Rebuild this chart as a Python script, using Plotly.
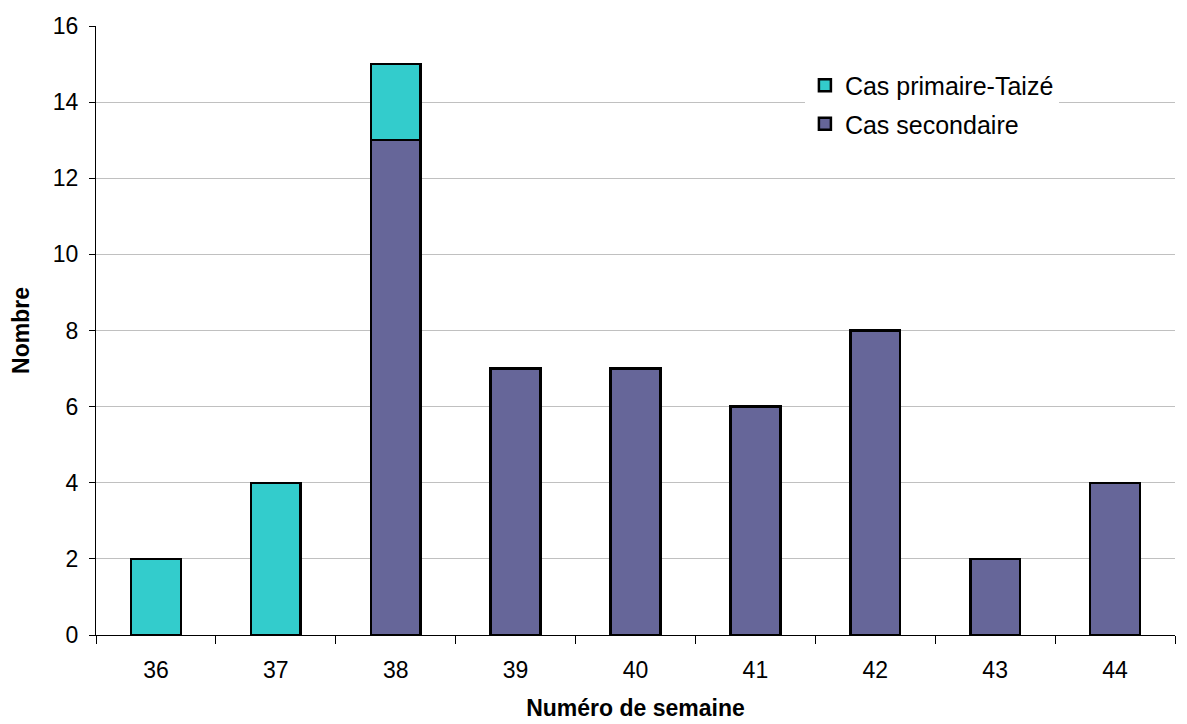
import plotly.graph_objects as go

weeks = ["36", "37", "38", "39", "40", "41", "42", "43", "44"]
secondaire = [0, 0, 13, 7, 7, 6, 8, 2, 4]
primaire = [2, 4, 2, 0, 0, 0, 0, 0, 0]

fig = go.Figure()
fig.add_trace(go.Bar(x=weeks, y=secondaire, name="Cas secondaire", legendgroup="b", legendrank=2,
                     marker=dict(color="#666699", line=dict(color="black", width=2.5))))
fig.add_trace(go.Bar(x=weeks, y=primaire, name="Cas primaire-Taizé", legendgroup="a", legendrank=1,
                     marker=dict(color="#33CCCC", line=dict(color="black", width=2.5))))

font = "Liberation Sans, Arial, sans-serif"
fig.update_layout(
    barmode="stack",
    bargap=0.585,
    width=1187, height=724,
    margin=dict(l=88, r=20, t=18, b=97),
    plot_bgcolor="white", paper_bgcolor="white",
    font=dict(family=font, size=23, color="black"),
    showlegend=True,
    legend=dict(traceorder="grouped", x=0.657, y=0.94, xanchor="left", yanchor="top",
                bgcolor="white", font=dict(size=25), itemwidth=30,
                tracegroupgap=3),
    xaxis=dict(title=dict(text="<b>Numéro de semaine</b>", standoff=18, font=dict(size=23)),
               tickfont=dict(size=23), automargin=False, ticklabelstandoff=14,
               tickson="boundaries", ticks="outside", ticklen=8, tickcolor="black",
               showline=True, linecolor="black", linewidth=1, showgrid=False),
    yaxis=dict(title=dict(text="<b>Nombre</b>", standoff=22, font=dict(size=23)),
               tickfont=dict(size=23), automargin=False, ticklabelstandoff=6,
               range=[0, 16], dtick=2,
               ticks="outside", ticklen=6, tickcolor="black",
               showline=True, linecolor="black", linewidth=1,
               showgrid=True, gridcolor="#C0C0C0", gridwidth=1, zeroline=False),
)
fig.write_html("out.html")
